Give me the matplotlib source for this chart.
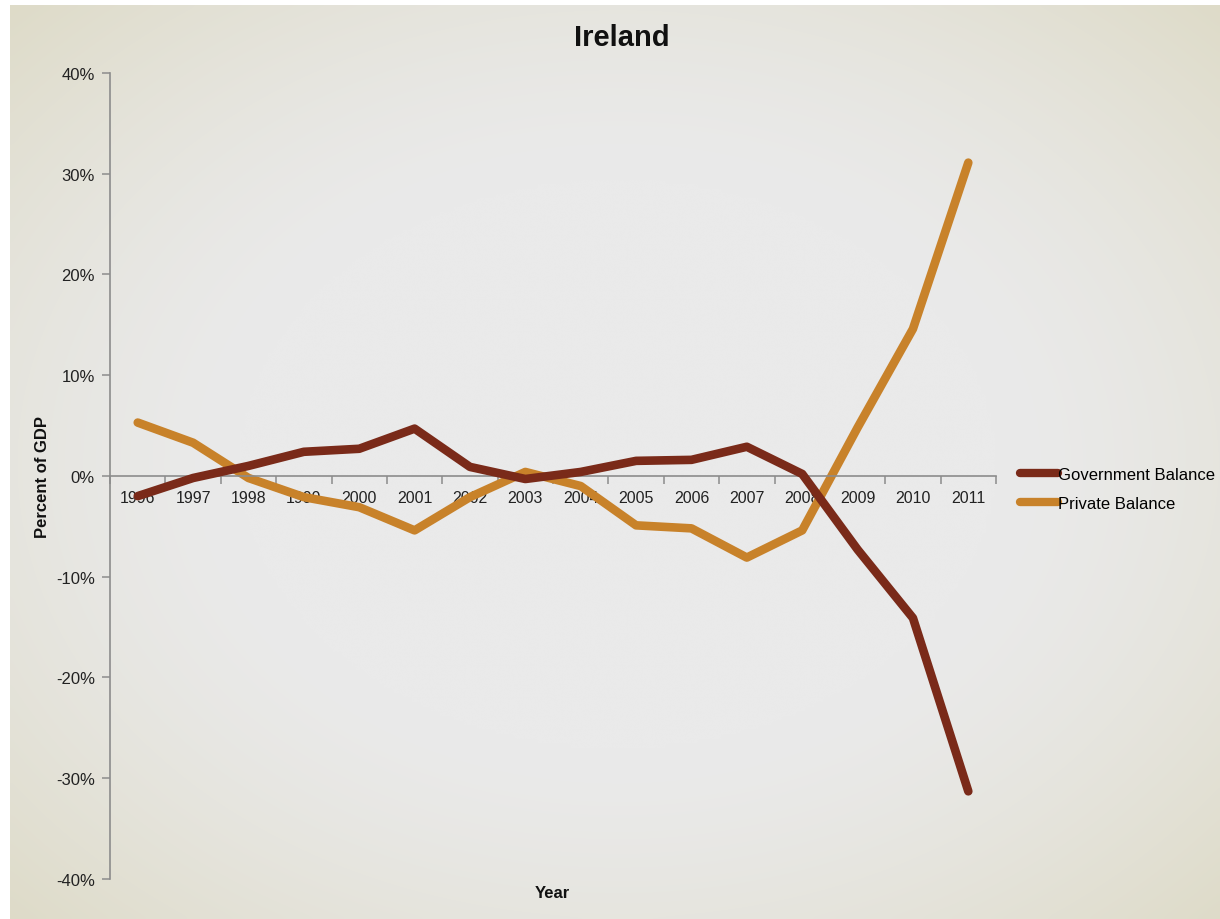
import numpy as np
import matplotlib
matplotlib.use('Agg')
import matplotlib.pyplot as plt
from matplotlib.ticker import FixedLocator, FuncFormatter

plt.rcParams['font.family'] = ['Liberation Sans', 'DejaVu Sans']

years = ['1996', '1997', '1998', '1999', '2000', '2001', '2002', '2003',
         '2004', '2005', '2006', '2007', '2008', '2009', '2010', '2011']
government_balance = [-2.0, -0.2, 1.0, 2.4, 2.7, 4.7, 0.9, -0.3,
                      0.4, 1.5, 1.6, 2.9, 0.2, -7.3, -14.1, -31.3]
private_balance = [5.3, 3.3, -0.2, -2.1, -3.1, -5.4, -2.1, 0.4,
                   -1.0, -4.9, -5.2, -8.1, -5.4, 4.8, 14.6, 31.1]

gov_color = '#7a2a19'
priv_color = '#c8822a'
axis_color = '#8c8c8c'

fig = plt.figure(figsize=(12.2, 9.2), dpi=100)
fig.patch.set_facecolor('white')

# beige frame fading to light grey in the middle
bg = fig.add_axes([0.008, 0.0, 0.992, 0.994])
h, w = 200, 260
yy, xx = np.mgrid[0:h, 0:w]
d = np.sqrt(((xx - w / 2) / (w / 2)) ** 2 + ((yy - h / 2) / (h / 2)) ** 2) / np.sqrt(2)
t = np.clip((d - 0.45) / 0.55, 0, 1) ** 1.4
centre = np.array([234, 234, 234]) / 255
edge = np.array([222, 219, 200]) / 255
img = centre[None, None, :] * (1 - t[..., None]) + edge[None, None, :] * t[..., None]
bg.imshow(img, aspect='auto', interpolation='bicubic')
bg.axis('off')

ax = fig.add_axes([0.0902, 0.0435, 0.7262, 0.8761])
ax.set_facecolor('none')
x = np.arange(len(years))
ax.plot(x, government_balance, color=gov_color, lw=6.2, solid_capstyle='round',
        solid_joinstyle='round', label='Government Balance', zorder=3)
ax.plot(x, private_balance, color=priv_color, lw=6.2, solid_capstyle='round',
        solid_joinstyle='round', label='Private Balance', zorder=2)

ax.set_xlim(-0.5, len(years) - 0.5)
ax.set_ylim(-40, 40)
ax.set_yticks(np.arange(-40, 41, 10))
ax.yaxis.set_major_formatter(FuncFormatter(lambda v, p: f'{v:.0f}%'))

for s in ['top', 'right']:
    ax.spines[s].set_visible(False)
ax.spines['bottom'].set_position(('data', 0))
ax.spines['bottom'].set_color(axis_color)
ax.spines['left'].set_color(axis_color)
ax.spines['bottom'].set_linewidth(1.2)
ax.spines['left'].set_linewidth(1.2)

ax.set_xticks(x)
ax.set_xticklabels(years)
ax.xaxis.set_minor_locator(FixedLocator(np.arange(-0.5, len(years), 1.0)))
ax.tick_params(axis='x', which='major', length=0, pad=10, labelsize=11.5, labelcolor='#222222')
ax.tick_params(axis='x', which='minor', length=6, width=1.1, color=axis_color, direction='out')
ax.tick_params(axis='y', length=6, width=1.1, color=axis_color, pad=5,
               labelsize=12, labelcolor='#222222')

fig.text(0.51, 0.959, 'Ireland', ha='center', va='center', fontsize=21,
         fontweight='bold', color='#111111')
fig.text(0.035, 0.482, 'Percent of GDP', ha='center', va='center', rotation=90,
         fontsize=12, fontweight='bold', color='#111111')
fig.text(0.453, 0.029, 'Year', ha='center', va='center', fontsize=12,
         fontweight='bold', color='#111111')

leg = ax.legend(loc='center left', bbox_to_anchor=(1.027, 0.484), frameon=False,
                fontsize=12, handlelength=2.3, handletextpad=0.0, labelspacing=0.8,
                borderaxespad=0, borderpad=0)
for line in leg.get_lines():
    line.set_linewidth(6)

fig.savefig('out.png', dpi=100, facecolor=fig.get_facecolor())
